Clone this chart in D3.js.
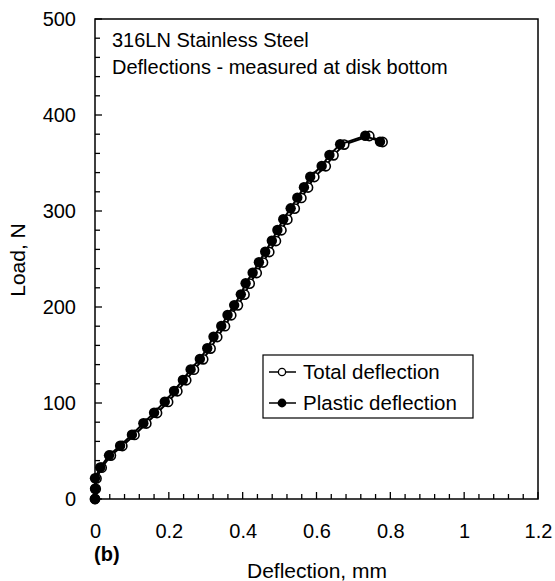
<!DOCTYPE html>
<html><head><meta charset="utf-8">
<script src="https://cdn.jsdelivr.net/npm/d3@7"></script>
<style>body{margin:0;background:#fff}svg{display:block}text{font-family:"Liberation Sans",Arial,sans-serif;fill:#000}</style>
</head><body>
<script>
// Data
const plasticX = [0,0,0,0.014,0.038,0.068,0.100,0.131,0.160,0.189,0.214,0.238,0.259,0.284,0.304,0.321,0.342,0.359,0.377,0.395,0.408,0.427,0.444,0.461,0.479,0.494,0.510,0.530,0.548,0.566,0.583,0.614,0.635,0.664,0.732,0.772];
const plasticY = [0,10.7,21.6,32.9,45.5,55.5,67,78.9,89.9,101.4,112.5,124,135,145.8,157,169,180.3,191.7,202,213.2,224.7,235.7,246.6,257.6,269,280.2,291.4,302.8,313.9,324.8,335.7,346.9,358.3,369.5,378.4,372.2];
const totalX = [0,0.002,0.004,0.018,0.043,0.074,0.107,0.139,0.168,0.198,0.223,0.247,0.268,0.293,0.313,0.331,0.352,0.369,0.387,0.405,0.419,0.438,0.455,0.472,0.490,0.505,0.521,0.541,0.559,0.577,0.594,0.625,0.646,0.675,0.743,0.779];
const totalY = [0,10.5,21.4,32.6,45.2,55.2,66.7,78.6,89.6,101.1,112.2,123.7,134.7,145.5,156.7,168.7,180,191.4,201.7,212.9,224.4,235.4,246.3,257.3,268.7,279.9,291.1,302.5,313.6,324.5,335.4,346.6,358,369.2,378.1,371.9];
const xTicks = [0,0.2,0.4,0.6,0.8,1,1.2];
const xTickLabels = ["0","0.2","0.4","0.6","0.8","1","1.2"];
const yTicks = [0,100,200,300,400,500];
const seriesNames = ["Total deflection","Plastic deflection"];
const titleLines = ["316LN Stainless Steel","Deflections - measured at disk bottom"];

const W=555,H=581;
const m={l:95,r:17,t:19,b:82};
const svg=d3.select("body").append("svg").attr("width",W).attr("height",H);
const x=d3.scaleLinear().domain([0,1.2]).range([m.l,W-m.r]);
const y=d3.scaleLinear().domain([0,500]).range([H-m.b,m.t]);

// frame
svg.append("rect").attr("x",x(0)).attr("y",y(500)).attr("width",x(1.2)-x(0)).attr("height",y(0)-y(500))
  .attr("fill","none").attr("stroke","#000").attr("stroke-width",1.5);

// minor ticks
const xMinor=d3.range(0,1.2001,0.04);
svg.append("g").selectAll("line").data(xMinor).join("line")
  .attr("x1",d=>x(d)).attr("x2",d=>x(d)).attr("y1",y(0)).attr("y2",d=>y(0)-(Math.abs(d*5-Math.round(d*5))<1e-6?7:5))
  .attr("stroke","#000").attr("stroke-width",1.3);
const yMinor=d3.range(0,500.1,20);
svg.append("g").selectAll("line").data(yMinor).join("line")
  .attr("y1",d=>y(d)).attr("y2",d=>y(d)).attr("x1",x(0)).attr("x2",d=>x(0)+(d%100===0?7:5))
  .attr("stroke","#000").attr("stroke-width",1.3);

// axes labels via d3 axes
const xAxis=d3.axisBottom(x).tickValues(xTicks).tickFormat((d,i)=>xTickLabels[i]).tickSize(0).tickPadding(25);
const gx=svg.append("g").attr("transform",`translate(0,${y(0)})`).call(xAxis);
gx.select(".domain").remove();
gx.selectAll("text").style("font-size","20px").style("font-family","Liberation Sans, Arial, sans-serif");
const yAxis=d3.axisLeft(y).tickValues(yTicks).tickSize(0).tickPadding(19);
const gy=svg.append("g").attr("transform",`translate(${x(0)},0)`).call(yAxis);
gy.select(".domain").remove();
gy.selectAll("text").style("font-size","20px").style("font-family","Liberation Sans, Arial, sans-serif");

svg.append("text").attr("x",317).attr("y",578).attr("text-anchor","middle").style("font-size","21px").text("Deflection, mm");
svg.append("text").attr("transform","translate(25,260) rotate(-90)").attr("text-anchor","middle").style("font-size","21px").text("Load, N");
svg.append("text").attr("x",94).attr("y",561).style("font-size","20px").style("font-weight","bold").text("(b)");

svg.selectAll(".title").data(titleLines).join("text").attr("class","title")
  .attr("x",112).attr("y",(d,i)=>47+i*27).style("font-size","20px").text(d=>d);

// series
const line=d3.line().x(d=>x(d[0])).y(d=>y(d[1]));
const tot=totalX.map((v,i)=>[v,totalY[i]]);
const pla=plasticX.map((v,i)=>[v,plasticY[i]]);
svg.append("path").datum(tot).attr("d",line).attr("fill","none").attr("stroke","#000").attr("stroke-width",2);
svg.append("g").selectAll("circle").data(tot).join("circle").attr("cx",d=>x(d[0])).attr("cy",d=>y(d[1])).attr("r",4.6)
  .attr("fill","#fff").attr("stroke","#000").attr("stroke-width",1.6);
svg.append("path").datum(pla).attr("d",line).attr("fill","none").attr("stroke","#000").attr("stroke-width",2);
svg.append("g").selectAll("circle").data(pla).join("circle").attr("cx",d=>x(d[0])).attr("cy",d=>y(d[1])).attr("r",5.2)
  .attr("fill","#000");

// legend
const lg=svg.append("g");
lg.append("rect").attr("x",263).attr("y",355).attr("width",210).attr("height",63).attr("fill","#fff").attr("stroke","#000").attr("stroke-width",1.2);
seriesNames.forEach((n,i)=>{
  const yy=372+i*31;
  lg.append("line").attr("x1",269).attr("x2",296).attr("y1",yy).attr("y2",yy).attr("stroke","#000").attr("stroke-width",1.5);
  lg.append("circle").attr("cx",282).attr("cy",yy).attr("r",i===0?3.6:4.4).attr("fill",i===0?"#fff":"#000").attr("stroke","#000").attr("stroke-width",i===0?1.3:0);
  lg.append("text").attr("x",303).attr("y",yy+7).style("font-size","20.5px").text(n);
});
</script>
</body></html>
